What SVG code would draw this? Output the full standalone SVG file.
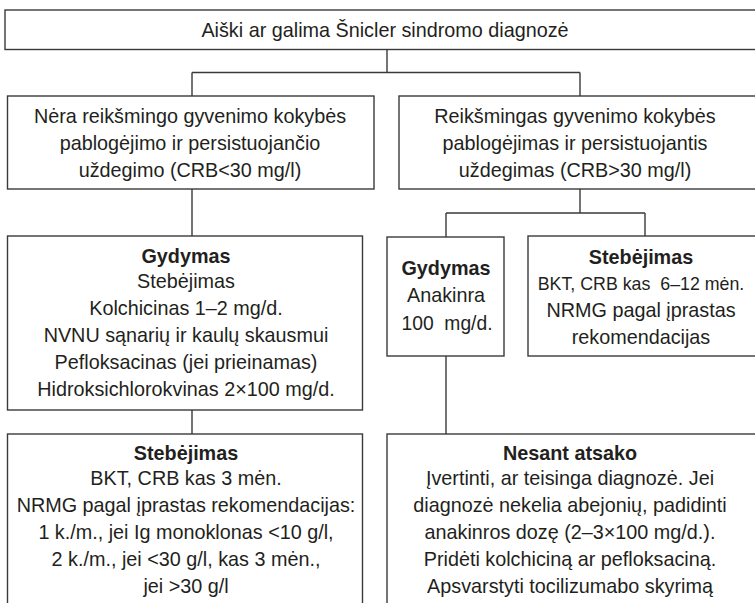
<svg xmlns="http://www.w3.org/2000/svg" width="755" height="603" viewBox="0 0 755 603">
<style>
.box{fill:#fff;stroke:#3a3a3a;stroke-width:1.4}
.c{fill:none;stroke:#3a3a3a;stroke-width:1.4}
text{font-family:"Liberation Sans",Arial,sans-serif;font-size:19.8px;fill:#231f20;text-anchor:middle}
.b{font-weight:bold}
</style>
<rect width="755" height="603" fill="#fff"/>
<g id="connectors">
<path class="c" d="M387 49.5V72.5M192 72.5H580M192 72.5V96M580 72.5V96"/>
<path class="c" d="M192 189V236M192 410V434"/>
<path class="c" d="M580 189V213M446 213H645M446 213V237M645 213V236M446 356V434"/>
</g>
<g id="n1"><rect class="box" x="5" y="10" width="760" height="39.5"/>
<text x="385" y="37">Aiški ar galima Šnicler sindromo diagnozė</text></g>
<g id="n2"><rect class="box" x="7.5" y="96" width="366.5" height="93"/>
<text x="190" y="123">Nėra reikšmingo gyvenimo kokybės</text>
<text x="190" y="150">pablogėjimo ir persistuojančio</text>
<text x="190" y="177">uždegimo (CRB&lt;30 mg/l)</text></g>
<g id="n3"><rect class="box" x="399" y="96" width="370" height="93"/>
<text x="575" y="123">Reikšmingas gyvenimo kokybės</text>
<text x="575" y="150">pablogėjimas ir persistuojantis</text>
<text x="575" y="177">uždegimas (CRB&gt;30 mg/l)</text></g>
<g id="n4"><rect class="box" x="7.5" y="236" width="355" height="174"/>
<text class="b" x="186" y="263">Gydymas</text>
<text x="186" y="288">Stebėjimas</text>
<text x="186" y="315">Kolchicinas 1–2 mg/d.</text>
<text x="186" y="342">NVNU sąnarių ir kaulų skausmui</text>
<text x="186" y="369">Pefloksacinas (jei prieinamas)</text>
<text x="186" y="396">Hidroksichlorokvinas 2×100 mg/d.</text></g>
<g id="n5"><rect class="box" x="387" y="237" width="117" height="119"/>
<text class="b" x="446" y="275">Gydymas</text>
<text x="446" y="302">Anakinra</text>
<text x="447" y="330" textLength="91" lengthAdjust="spacingAndGlyphs">100&#160; mg/d.</text></g>
<g id="n6"><rect class="box" x="528" y="236" width="240" height="120"/>
<text class="b" x="641" y="264">Stebėjimas</text>
<text x="641" y="290" style="font-size:17.8px">BKT, CRB kas&#160; 6–12 mėn.</text>
<text x="641" y="317">NRMG pagal įprastas</text>
<text x="641" y="344">rekomendacijas</text></g>
<g id="n7"><rect class="box" x="7.5" y="434" width="355" height="180"/>
<text class="b" x="186" y="460">Stebėjimas</text>
<text x="186" y="485">BKT, CRB kas 3 mėn.</text>
<text x="186" y="512">NRMG pagal įprastas rekomendacijas:</text>
<text x="186" y="539">1 k./m., jei Ig monoklonas &lt;10 g/l,</text>
<text x="186" y="566">2 k./m., jei &lt;30 g/l, kas 3 mėn.,</text>
<text x="186" y="593">jei &gt;30 g/l</text></g>
<g id="n8"><rect class="box" x="387" y="434" width="380" height="180"/>
<text class="b" x="570" y="460">Nesant atsako</text>
<text x="570" y="485">Įvertinti, ar teisinga diagnozė. Jei</text>
<text x="570" y="512">diagnozė nekelia abejonių, padidinti</text>
<text x="570" y="539">anakinros dozę (2–3×100 mg/d.).</text>
<text x="570" y="566">Pridėti kolchiciną ar pefloksaciną.</text>
<text x="570" y="593">Apsvarstyti tocilizumabo skyrimą</text></g>
</svg>
